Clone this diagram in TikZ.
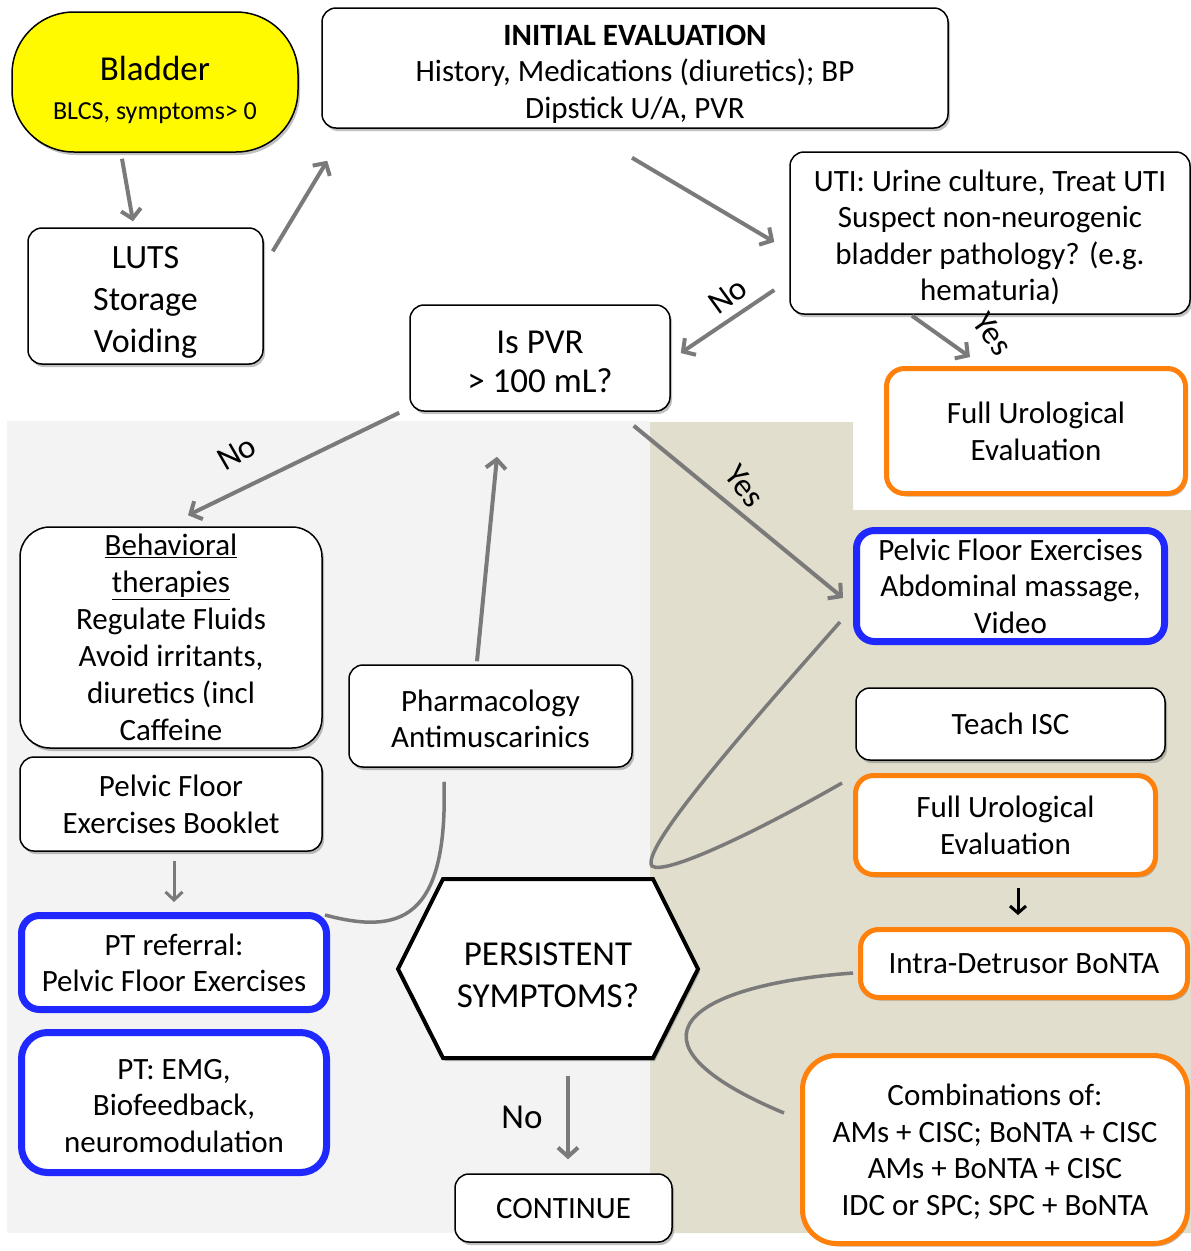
\documentclass[tikz,border=0pt]{standalone}
\usepackage{fontspec}
\setmainfont{Carlito}
\usetikzlibrary{arrows.meta,shadows,calc}
\definecolor{bgGrey}{RGB}{243,243,243}
\definecolor{bgTan}{RGB}{225,222,205}
\definecolor{yel}{RGB}{255,250,0}
\definecolor{bluB}{RGB}{30,40,255}
\definecolor{oraB}{RGB}{255,128,10}
\definecolor{arrG}{RGB}{122,122,122}
\begin{document}
\begin{tikzpicture}[x=1pt,y=-1pt,
  every node/.style={font=\fontsize{31}{36.5}\selectfont, align=center, inner sep=0pt, text depth=0pt},
  shad/.style={drop shadow={shadow xshift=2pt,shadow yshift=-3pt,opacity=.35,fill=black!70}},
  box/.style={draw=black, line width=1.5pt, fill=white, rounded corners=14pt, shad},
  bluebox/.style={box, draw=bluB, line width=7pt, rounded corners=18pt},
  orabox/.style={box, draw=oraB, line width=5pt, rounded corners=18pt},
  arr/.style={draw=arrG, line width=4pt, -{Straight Barb[length=9pt,width=20pt,line width=4pt]}},
  curv/.style={draw=arrG, line width=3.5pt},
  lbl/.style={font=\fontsize{33}{36}\selectfont}
]
\useasboundingbox (0,0) rectangle (1191,1251);
% backgrounds
\fill[bgGrey] (7,421) rectangle (650,1233);
\fill[bgTan] (650,422) -- (853,422) -- (853,510) -- (1191,510) -- (1191,1233) -- (650,1233) -- cycle;

% nodes
\node[box, fill=yel, rounded corners=62pt, minimum width=286pt, minimum height=140pt] (bladder) at (155,82)
  {\fontsize{35}{38}\selectfont\rule{0pt}{36pt}Bladder\\[3pt]\fontsize{26}{30}\selectfont BLCS, symptoms> 0};
\node[box, minimum width=626pt, minimum height=120pt] (init) at (635,68)
  {\rule{0pt}{27pt}\textbf{INITIAL EVALUATION}\\History, Medications (diuretics); BP\\Dipstick U/A, PVR};
\node[box, minimum width=235pt, minimum height=136pt, font=\fontsize{34}{42}\selectfont] (luts) at (145.5,296)
  {\rule{0pt}{29pt}LUTS\\Storage\\Voiding};
\node[box, minimum width=400pt, minimum height=162pt] (uti) at (990,233)
  {\rule{0pt}{26pt}UTI: Urine culture, Treat UTI\\Suspect non-neurogenic\\bladder pathology? (e.g.\\hematuria)};
\node[box, minimum width=260pt, minimum height=106pt, font=\fontsize{35}{39}\selectfont] (pvr) at (540,358)
  {\rule{0pt}{29pt}Is PVR\\> 100 mL?};
\node[orabox, minimum width=299pt, minimum height=125pt] (fue1) at (1036,431)
  {Full Urological\\Evaluation};
\node[box, rounded corners=30pt, minimum width=302pt, minimum height=221pt, font=\fontsize{31}{37}\selectfont] (behav) at (171,637.5)
  {\underline{Behavioral}\\\underline{therapies}\\Regulate Fluids\\Avoid irritants,\\diuretics (incl\\Caffeine};
\node[box, minimum width=283pt, minimum height=102pt] (pharm) at (490.5,716)
  {\rule{0pt}{27pt}Pharmacology\\Antimuscarinics};
\node[box, minimum width=302pt, minimum height=94pt] (booklet) at (171,804)
  {Pelvic Floor\\Exercises Booklet};
\node[bluebox, minimum width=305pt, minimum height=94pt] (ptref) at (174,962.5)
  {PT referral:\\Pelvic Floor Exercises};
\node[bluebox, rounded corners=26pt, minimum width=305pt, minimum height=140pt] (ptemg) at (174,1102.5)
  {\rule{0pt}{26pt}PT: EMG,\\Biofeedback,\\neuromodulation};
% hexagon
\draw[line width=4pt, fill=white, line join=miter, shad]
  (398,969) -- (443,879) -- (653,879) -- (698,969) -- (653,1058) -- (443,1058) -- cycle;
\node[minimum width=300pt, minimum height=179pt, font=\fontsize{35}{42}\selectfont] (persist) at (548,969)
  {\rule{0pt}{34pt}PERSISTENT\\SYMPTOMS?};
\node[box, minimum width=217pt, minimum height=68pt] (cont) at (563.5,1208) {CONTINUE};
\node[bluebox, minimum width=308pt, minimum height=111pt] (pfe) at (1010.5,586)
  {Pelvic Floor Exercises\\Abdominal massage,\\Video};
\node[box, minimum width=309pt, minimum height=72pt] (isc) at (1010.5,724) {Teach ISC};
\node[orabox, minimum width=300pt, minimum height=99pt] (fue2) at (1005.5,825)
  {Full Urological\\Evaluation};
\node[orabox, minimum width=327pt, minimum height=68pt] (intra) at (1024,963.5) {Intra-Detrusor BoNTA};
\node[orabox, rounded corners=34pt, minimum width=385pt, minimum height=188pt] (comb) at (995,1149.5)
  {Combinations of:\\AMs + CISC; BoNTA + CISC\\AMs + BoNTA + CISC\\IDC or SPC; SPC + BoNTA};

% arrows
\draw[arr] ([xshift=-33pt,yshift=-6pt]bladder.south) -- ([xshift=-12.5pt,yshift=6pt]luts.north);
\draw[arr] ([xshift=9pt,yshift=-24pt]luts.north east) -- ([xshift=6pt,yshift=-32pt]init.south west);
\draw[arr] ([xshift=-3pt,yshift=-29pt]init.south) -- ([xshift=-15pt,yshift=-9pt]uti.west);
\draw[arr] ([xshift=-15pt,yshift=-57pt]uti.west) -- ([xshift=10pt,yshift=5pt]pvr.east);
\draw[arr] ([xshift=-78pt,yshift=-1pt]uti.south) -- ([xshift=-66pt,yshift=9pt]fue1.north);
\draw[arr] ([xshift=-10pt,yshift=-1pt]pvr.south west) -- ([xshift=17pt,yshift=11pt]behav.north);
\draw[arr] ([xshift=-37pt,yshift=-14pt]pvr.south east) -- ([xshift=-10pt,yshift=-12pt]pfe.west);
\draw[arr] ([xshift=-13.5pt,yshift=3pt]pharm.north) -- ([xshift=-43pt,yshift=-45pt]pvr.south);
\draw[draw=arrG, line width=3pt, -{Straight Barb[length=8pt,width=17pt,line width=3pt]}] ([xshift=3pt,yshift=-9pt]booklet.south) -- ([yshift=10pt]ptref.north);
\draw[arr] ([xshift=20pt,yshift=-17pt]persist.south) -- ([xshift=4.5pt,yshift=14pt]cont.north);
\draw[draw=black, line width=3pt, -{Straight Barb[length=7pt,width=16pt,line width=3pt]}] ([xshift=12.5pt,yshift=-11pt]fue2.south) -- ([xshift=-6pt,yshift=12pt]intra.north);

% labels
\node[lbl, rotate=36] (lno1) at (728,296) {No};
\node[lbl, rotate=-55] (lyes1) at (993,334) {Yes};
\node[lbl, rotate=30] (lno2) at (237,453) {No};
\node[lbl, rotate=-52] (lyes2) at (745,486) {Yes};
\node[font=\fontsize{35}{40}\selectfont] (lno3) at (522,1117) {No};

% curves
\draw[curv] ([xshift=-5pt,yshift=-3pt]ptref.north east) .. controls (400,935) and (448,920) .. ([xshift=-46.5pt,yshift=-14pt]pharm.south);
\draw[curv] ([xshift=-13pt,yshift=-36pt]pfe.west) .. controls (740,735) and (640,850) .. (652,866)
  .. controls (665,876) and (760,830) .. ([xshift=-11pt,yshift=42pt]fue2.west);
\draw[curv] ([xshift=-5pt,yshift=-9.5pt]intra.west) .. controls (690,985) and (610,1040) .. ([xshift=-16pt,yshift=-60pt]comb.north west);
\end{tikzpicture}
\end{document}
